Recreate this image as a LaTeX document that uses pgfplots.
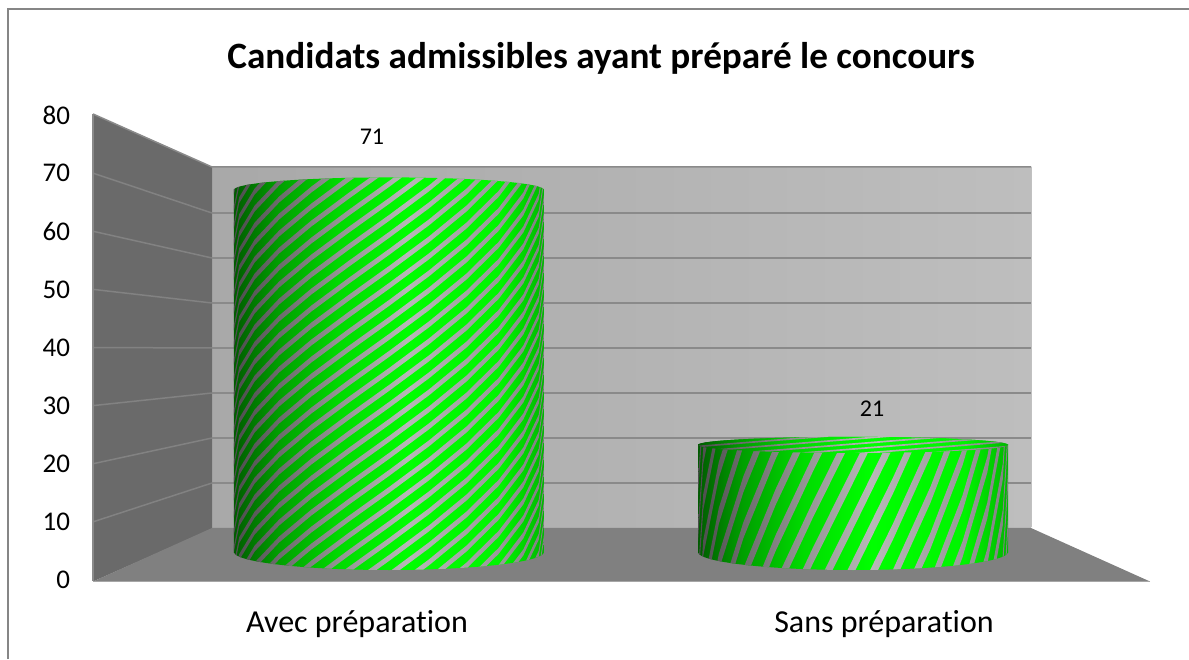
\documentclass[border=0pt]{standalone}
\usepackage{fontspec}
\setmainfont{Carlito}[Ligatures=NoCommon]
\usepackage{pgfplots}
\usepackage{pgfplotstable}
\pgfplotsset{compat=1.18}
\definecolor{framegray}{HTML}{868686}
\definecolor{sidewall}{HTML}{6A6A6A}
\definecolor{floorgray}{HTML}{808080}
\definecolor{gridgray}{HTML}{8A8A8A}
\definecolor{sidegrid}{HTML}{828282}
\definecolor{edgegray}{HTML}{A6A6A6}
\pgfdeclarehorizontalshading{greencyl}{100bp}{rgb(0bp)=(0,.36,0); rgb(25bp)=(0,.36,0); rgb(32bp)=(0,.62,0); rgb(42bp)=(0,.86,0); rgb(53bp)=(0,1,0); rgb(68bp)=(0,.96,0); rgb(75bp)=(0,.72,0); rgb(100bp)=(0,.72,0)}
\pgfdeclarehorizontalshading{graycyl}{100bp}{rgb(0bp)=(.30,.30,.30); rgb(25bp)=(.30,.30,.30); rgb(32bp)=(.42,.42,.42); rgb(42bp)=(.58,.58,.58); rgb(53bp)=(.72,.72,.72); rgb(68bp)=(.60,.60,.60); rgb(75bp)=(.50,.50,.50); rgb(100bp)=(.50,.50,.50)}
\pgfdeclarehorizontalshading{backwall}{100bp}{rgb(0bp)=(.66,.66,.66); rgb(25bp)=(.66,.66,.66); rgb(75bp)=(.745,.745,.745); rgb(100bp)=(.745,.745,.745)}
\pgfplotstableread{
k v
0 71
}\dataA
\pgfplotstableread{
k v
1 21
}\dataB
\pgfplotstablegetelem{0}{v}\of\dataA \let\vA\pgfplotsretval
\pgfplotstablegetelem{0}{v}\of\dataB \let\vB\pgfplotsretval
% #1 anchor, #2 value, #3 top ry, #4 slope, #5 period, #6 gray width, #7 phase
\newcommand\cyl[7]{%
\begin{scope}[shift={(#1)},x=1pt,y=1pt]
\pgfmathsetmacro\H{5.1*#2}
\shade[shading=greencyl] (-155,0) arc[start angle=180,end angle=360,x radius=155,y radius=18] -- cycle;
\shade[shading=greencyl] (155,\H) arc[start angle=0,end angle=180,x radius=155,y radius=#3] -- cycle;
\pgfmathtruncatemacro\ia{(-18-#4*155*1.5708-#6)/#5-2}
\pgfmathtruncatemacro\ib{(\H+18+#4*155*1.5708)/#5+1}
\begin{scope}
\clip (-155,0) arc[start angle=180,end angle=360,x radius=155,y radius=18] -- (155,\H) arc[start angle=0,end angle=180,x radius=155,y radius=#3] -- cycle;
\clip \foreach \i in {\ia,...,\ib} {
  (-155,{\i*#5+#7-#4*155*1.5708})
  \foreach \t in {-75,-60,...,90} { -- ({155*sin(\t)},{\i*#5+#7+#4*155*(\t*0.0174533)-15*cos(\t)}) }
  \foreach \t in {90,75,...,-90} { -- ({155*sin(\t)},{\i*#5+#7+#6+#4*155*(\t*0.0174533)-15*cos(\t)}) }
  -- cycle };
\shade[shading=graycyl] (-155,-20) rectangle (155,\H+15);
\end{scope}
\end{scope}}
% #1 anchor, #2 value, #3 ry, #4 slope, #5 period, #6 gray width
\newcommand\cylcap[6]{%
\begin{scope}[shift={(#1)},x=1pt,y=1pt]
\pgfmathsetmacro\H{5.1*#2}
\shade[shading=greencyl] (0,\H) ellipse[x radius=155,y radius=#3];
\begin{scope}
\clip (0,\H) ellipse[x radius=155,y radius=#3];
\pgfmathtruncatemacro\ja{(-#3-#4*155)/#5-1}
\pgfmathtruncatemacro\jb{(#3+#4*155)/#5+1}
\clip \foreach \j in {\ja,...,\jb} {
  (-155,{\H+\j*#5-#4*155}) -- (155,{\H+\j*#5+#4*155}) -- (155,{\H+\j*#5+#6+#4*155}) -- (-155,{\H+\j*#5+#6-#4*155}) -- cycle };
\shade[shading=graycyl] (-155,\H-#3) rectangle (155,\H+#3);
\end{scope}
\end{scope}}
\begin{document}
\begin{tikzpicture}[x=1pt,y=1pt]
\useasboundingbox (0,0) rectangle (1189,659);
% frame
\draw[framegray,line width=1.6pt] (8,0) -- (8,650) -- (1189,650);
% title
\node[font=\fontsize{37.2}{44}\selectfont\bfseries,anchor=center] at (601,601) {Candidats admissibles ayant préparé le concours};
% walls: px (x, 659-y)
\shade[shading=backwall] (212,492) rectangle (1031,131);
\fill[sidewall] (93,545) -- (212,492) -- (212,130) -- (93,77.5) -- cycle;
\fill[floorgray] (93,77.5) -- (212,131) -- (1031,131) -- (1150,77.5) -- cycle;
\draw[edgegray,line width=1.2pt] (93,77.5) -- (1150,77.5);
\foreach \v in {10,20,...,70} {
  \draw[sidegrid,line width=1.5pt] (93,{79+5.8125*\v}) -- (212,{131+4.5*\v});
  \draw[gridgray,line width=1.5pt] (212,{131+4.5*\v}) -- (1031,{131+4.5*\v});
}
\draw[gridgray,line width=1.5pt] (93,545) -- (212,492) -- (1031,492);
\draw[gridgray,line width=1.2pt] (93,78) -- (93,545);
\draw[edgegray!70!white,line width=1pt] (1031,131.5) -- (1031,491.5);
\begin{axis}[
  at={(93pt,79pt)},anchor=south west,scale only axis,width=1057pt,height=465pt,
  xmin=-0.5009,xmax=1.5047,ymin=0,ymax=80,clip=false,
  axis line style={draw=none},tick style={draw=none},
  xtick={0,1},xticklabels={Avec préparation,Sans préparation},
  ytick={0,10,...,80},
  /pgf/number format/assume math mode=true,
  yticklabel style={font=\fontsize{27}{32}\selectfont,anchor=east,xshift=-19.5pt},
  xticklabel style={font=\fontsize{32}{38}\selectfont,anchor=center,yshift=-44pt},
]
\addplot[draw=none,forget plot] coordinates {(0,0)};
\end{axis}
\begin{axis}[
  at={(93pt,79pt)},anchor=south west,scale only axis,width=1057pt,height=465pt,
  xmin=-0.6379,xmax=1.6401,ymin=-5.490,ymax=85.686,clip=false,
  hide axis,
  /pgf/number format/assume math mode=true,
]
\addplot[ybar,bar width=310pt,bar shift=0pt,draw=none,shade,shading=greencyl,
  nodes near coords,nodes near coords style={font=\fontsize{24}{29}\selectfont,anchor=center,text=black,xshift=-17pt,yshift=53pt}]
  table[x=k,y=v] {\dataA};
\addplot[ybar,bar width=310pt,bar shift=0pt,draw=none,shade,shading=greencyl,
  nodes near coords,nodes near coords style={font=\fontsize{24}{29}\selectfont,anchor=center,text=black,xshift=19pt,yshift=36pt}]
  table[x=k,y=v] {\dataB};
\coordinate (b0) at (axis cs:0,0);
\coordinate (b1) at (axis cs:1,0);
\end{axis}
\cyl{b0}{\vA}{12.5}{0.72}{17}{6}{6}
\cyl{b1}{\vB}{8}{2}{46}{16}{38}
\cylcap{b1}{\vB}{8}{0.08}{5}{1.7}
\end{tikzpicture}
\end{document}
